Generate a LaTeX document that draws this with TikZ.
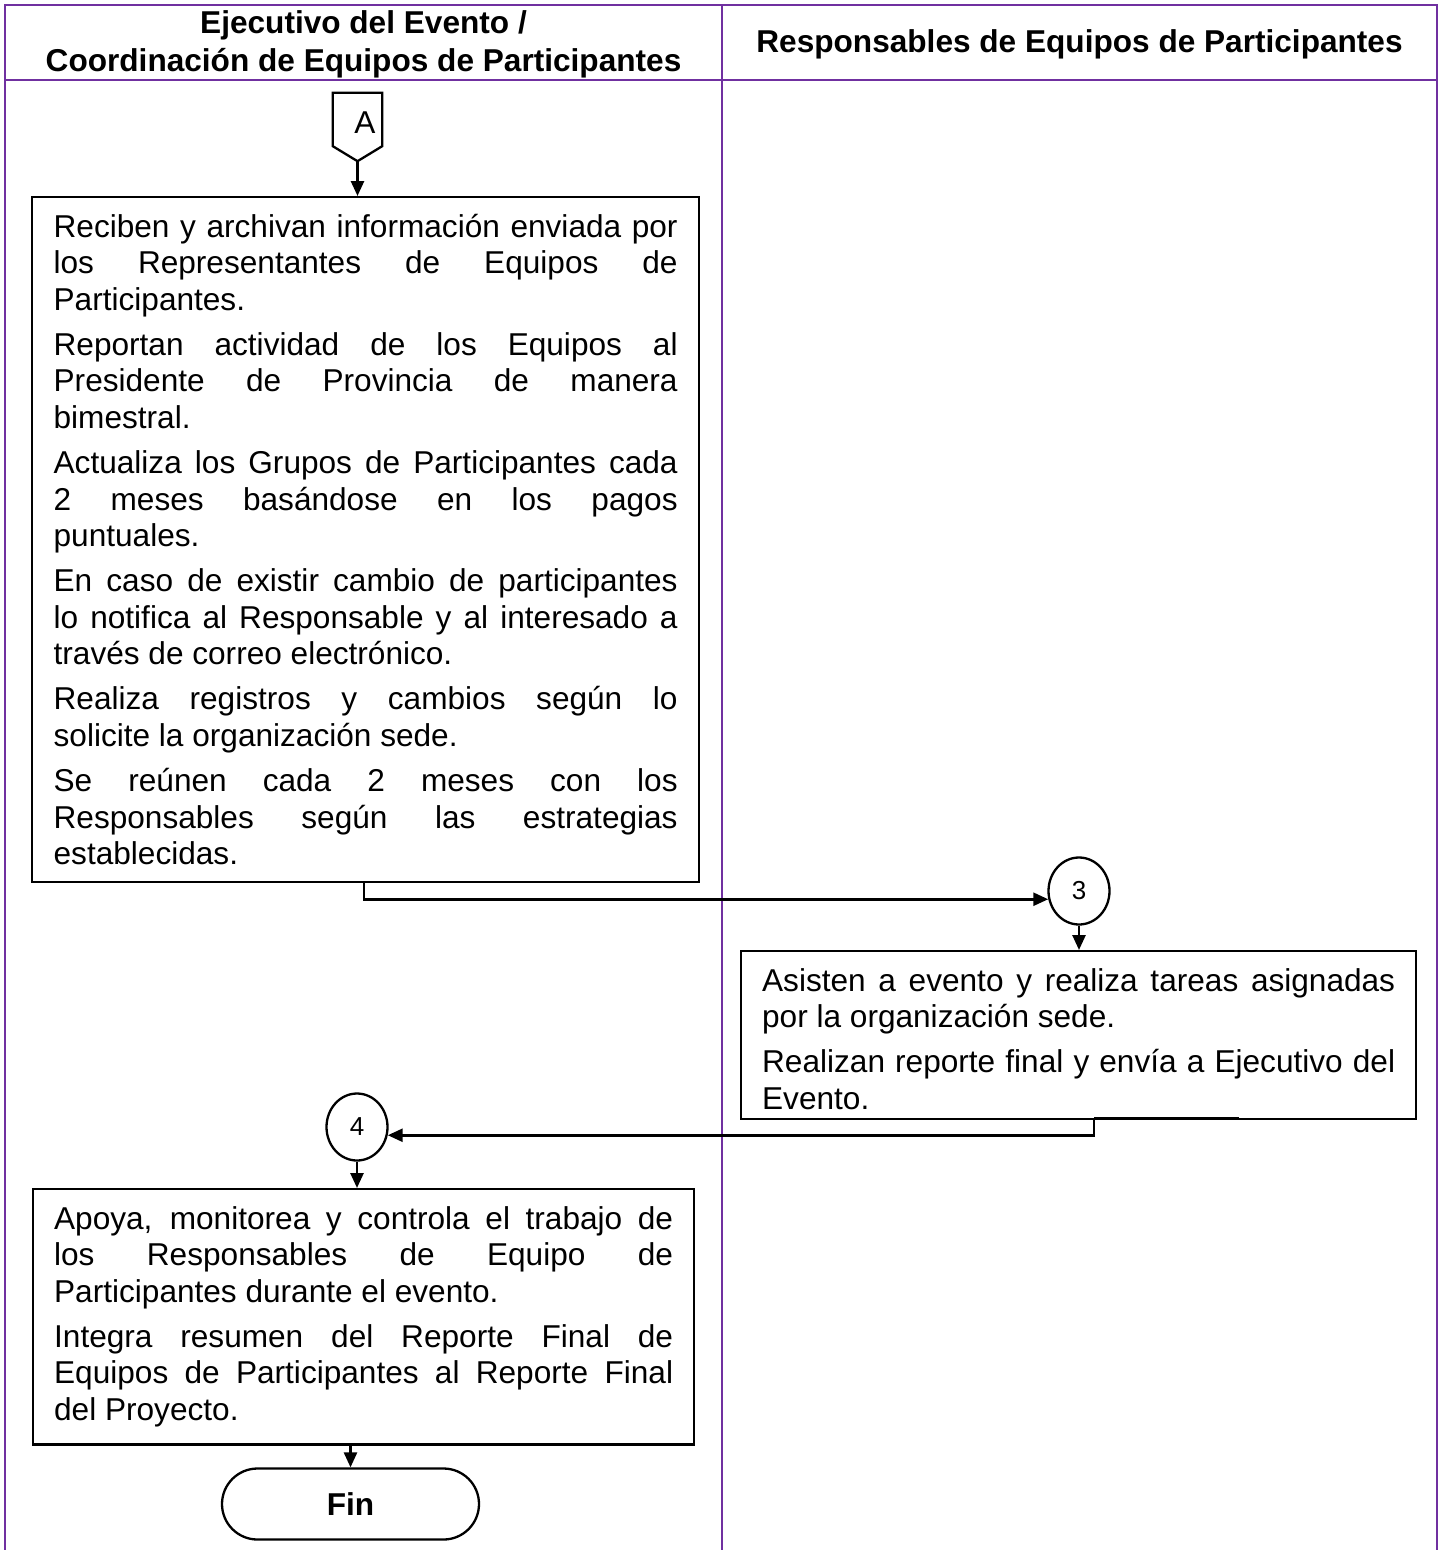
\documentclass[tikz,border=0pt]{standalone}
\usepackage{fontspec}
\setmainfont{Liberation Sans}
\usetikzlibrary{arrows.meta,shapes.geometric,calc}
\definecolor{lanepurple}{HTML}{7030A0}

% body text: fixed leading, paragraph gap, forced line breaks only
\newcommand\bodyfont{\fontsize{31.6}{36.5}\selectfont}
\newcommand\procsetup{\parindent=0pt\parskip=8.7pt\relax
  \hyphenpenalty=10000\exhyphenpenalty=10000\tolerance=10000\relax}
\newcommand\headroom[1]{\rule{0pt}{#1}}
\newcommand\footroom[1]{\rule[-#1]{0pt}{#1}}

\begin{document}
\begin{tikzpicture}[x=1pt,y=-1pt,
  lane/.style={draw=lanepurple, line width=2.4pt},
  hdr/.style={align=center, inner sep=0pt, font=\bfseries\fontsize{31.6}{37.5}\selectfont},
  procbox/.style={draw, line width=2.3pt, anchor=north west, inner ysep=0pt,
    align=justify, font=\bodyfont},
  joint/.style={draw, ellipse, line width=2.3pt, minimum width=61pt,
    minimum height=67pt, inner sep=0pt, font=\fontsize{26}{28}\selectfont},
  flow/.style={line width=2.6pt, -{Triangle[length=15pt,width=13pt]}},
  ]
\useasboundingbox (0,0) rectangle (1440,1550);

% swimlane frame
\draw[lane] (5,1552) -- (5,5) -- (1437,5) -- (1437,1552);
\draw[lane] (5,80) -- (1437,80);
\draw[lane] (722,5) -- (722,1552);

% lane headings
\node[hdr] (h1) at (363.5,44.5) {Ejecutivo del Evento /\\Coordinación de Equipos de Participantes};
\node[hdr] (h2) at (1079.5,44) {Responsables de Equipos de Participantes};

% off-page connector A
\node[minimum width=49pt, minimum height=68pt, inner sep=0pt] (offA) at (357.5,127) {};
\draw[line width=2.3pt, line join=miter]
  (offA.north west) -- (offA.north east) -- ($(offA.south east)+(0,-15)$)
  -- (offA.south) -- ($(offA.south west)+(0,-15)$) -- cycle;
\node[font=\bodyfont, inner sep=0pt] (labA) at (365,123) {A};

% process boxes
\node[procbox, text width=624pt, inner xsep=21.5pt] (b1) at (31,196) {\procsetup
\headroom{40pt}Reciben y archivan información enviada por\linebreak
los Representantes de Equipos de\linebreak
Participantes.\par
Reportan actividad de los Equipos al\linebreak
Presidente de Provincia de manera\linebreak
bimestral.\par
Actualiza los Grupos de Participantes cada\linebreak
2 meses basándose en los pagos\linebreak
puntuales.\par
En caso de existir cambio de participantes\linebreak
lo notifica al Responsable y al interesado a\linebreak
través de correo electrónico.\par
Realiza registros y cambios según lo\linebreak
solicite la organización sede.\par
Se reúnen cada 2 meses con los\linebreak
Responsables según las estrategias\linebreak
establecidas.\footroom{17.5pt}};

\node[procbox, text width=633pt, inner xsep=21pt] (b2) at (740,950) {\procsetup
\headroom{40pt}Asisten a evento y realiza tareas asignadas\linebreak
por la organización sede.\par
Realizan reporte final y envía a Ejecutivo del\linebreak
Evento.\footroom{9.5pt}};

\node[procbox, text width=619pt, inner xsep=21pt] (b3) at (32,1188) {\procsetup
\headroom{40pt}Apoya, monitorea y controla el trabajo de\linebreak
los Responsables de Equipo de\linebreak
Participantes durante el evento.\par
Integra resumen del Reporte Final de\linebreak
Equipos de Participantes al Reporte Final\linebreak
del Proyecto.\footroom{24pt}};

% on-page connectors
\node[joint] (c3) at (1079,891) {3};
\node[joint] (c4) at (357,1127) {4};

% terminator
\node[draw, line width=2.3pt, rounded corners=35.5pt, minimum width=257pt,
  minimum height=71pt, inner sep=0pt, font=\bfseries\fontsize{31.6}{36}\selectfont]
  (fin) at (350.5,1504) {Fin};

% flow lines
\draw[flow] (offA.south) -- (offA.south |- b1.north);
\draw[flow] ([xshift=-1.5pt]b1.south) |- (c3.195);
\draw[flow] (c3.south) -- (c3.south |- b2.north);
\draw[flow] ([xshift=15.5pt]b2.south) |- (c4.345);
\draw[flow] (c4.south) -- (c4.south |- b3.north);
\draw[flow] (fin.north |- b3.south) -- (fin.north);

% heavier stroke along part of the lower edge of the second box
\draw[line width=2.3pt] ($(b2.south)+(15.5,-1.5)$) -- ($(b2.south)+(160,-1.5)$);
\end{tikzpicture}
\end{document}
